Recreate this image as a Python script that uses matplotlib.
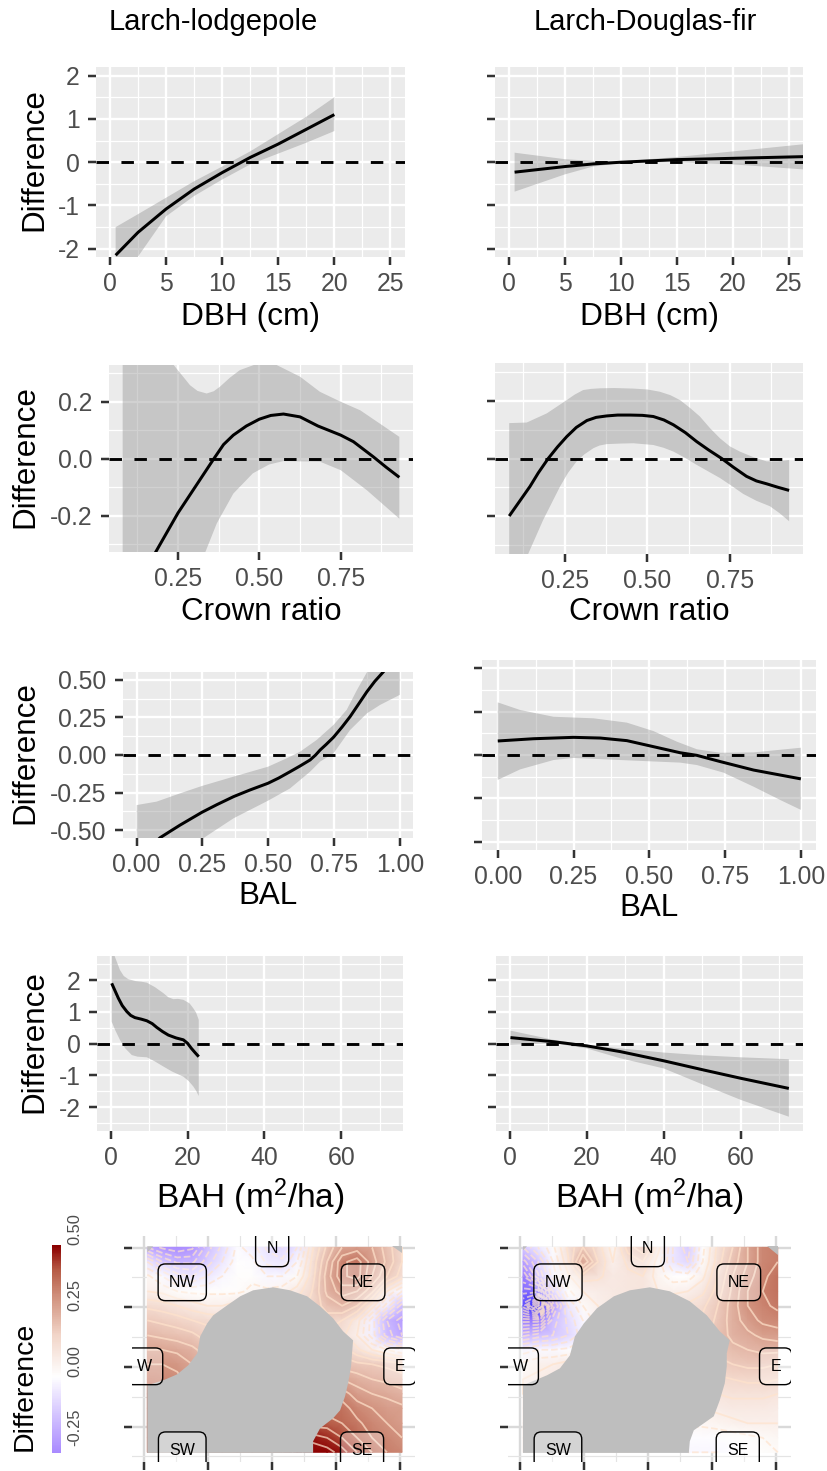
import numpy as np
import matplotlib
matplotlib.use('Agg')
import matplotlib.pyplot as plt
from matplotlib.colors import LinearSegmentedColormap, Normalize

plt.rcParams['font.family'] = ['Liberation Sans', 'DejaVu Sans']
plt.rcParams['mathtext.default'] = 'regular'

W, H = 828, 1471

# DBH
dbh_lp_x = [0.5, 2.5, 5, 7.5, 10, 12.5, 15, 17.5, 20]
dbh_lp_y = [-2.15, -1.62, -1.08, -0.62, -0.24, 0.11, 0.42, 0.76, 1.1]
dbh_lp_hi = [-1.5, -1.2, -0.82, -0.44, -0.1, 0.25, 0.65, 1.05, 1.5]
dbh_lp_lo = [-2.8, -2.18, -1.25, -0.78, -0.4, -0.05, 0.2, 0.45, 0.72]
dbh_df_x = [0.5, 5, 7.5, 10, 15, 20, 26.5]
dbh_df_y = [-0.23, -0.1, -0.04, 0.0, 0.06, 0.09, 0.13]
dbh_df_hi = [0.22, 0.07, 0.03, 0.02, 0.12, 0.25, 0.42]
dbh_df_lo = [-0.68, -0.28, -0.1, -0.02, 0.0, -0.05, -0.17]

# crown ratio
cr_lp_x = [0.08, 0.18, 0.25, 0.36, 0.39, 0.42, 0.46, 0.5, 0.535, 0.574, 0.625, 0.68, 0.75, 0.789, 0.85, 0.89, 0.93]
cr_lp_y = [-0.5, -0.33, -0.19, 0.0, 0.05, 0.083, 0.115, 0.139, 0.152, 0.157, 0.147, 0.115, 0.083, 0.06, 0.007, -0.03, -0.065]
cr_lp_hi_x = [0.08, 0.18, 0.236, 0.287, 0.31, 0.338, 0.36, 0.379, 0.41, 0.44, 0.49, 0.52, 0.553, 0.625, 0.686, 0.75, 0.81, 0.93]
cr_lp_hi = [0.7, 0.45, 0.33, 0.258, 0.238, 0.229, 0.237, 0.253, 0.285, 0.311, 0.332, 0.334, 0.329, 0.288, 0.235, 0.2, 0.17, 0.077]
cr_lp_lo_x = [0.08, 0.25, 0.333, 0.369, 0.42, 0.48, 0.53, 0.574, 0.686, 0.75, 0.83, 0.93]
cr_lp_lo = [-1.5, -0.6, -0.33, -0.227, -0.122, -0.051, -0.02, -0.008, -0.01, -0.04, -0.11, -0.21]
cr_df_x = [0.082, 0.145, 0.17, 0.2, 0.228, 0.256, 0.285, 0.317, 0.345, 0.377, 0.41, 0.448, 0.485, 0.518, 0.55, 0.579,
           0.615, 0.649, 0.685, 0.725, 0.76, 0.8, 0.83, 0.861, 0.895, 0.929]
cr_df_y = [-0.2, -0.097, -0.05, 0.0, 0.04, 0.076, 0.108, 0.132, 0.143, 0.148, 0.151, 0.151, 0.15, 0.146, 0.134, 0.117,
           0.09, 0.059, 0.03, 0.0, -0.03, -0.062, -0.078, -0.088, -0.1, -0.111]
cr_df_hi_x = [0.082, 0.135, 0.196, 0.256, 0.28, 0.306, 0.33, 0.357, 0.4, 0.458, 0.5, 0.538, 0.57, 0.599, 0.63, 0.659,
              0.69, 0.72, 0.75, 0.78, 0.82, 0.861, 0.895, 0.929]
cr_df_hi = [0.123, 0.125, 0.157, 0.203, 0.222, 0.238, 0.242, 0.244, 0.245, 0.243, 0.24, 0.232, 0.22, 0.203, 0.175, 0.146,
            0.105, 0.07, 0.042, 0.024, 0.005, -0.01, -0.01, -0.005]
cr_df_lo_x = [0.082, 0.14, 0.185, 0.236, 0.26, 0.286, 0.31, 0.337, 0.355, 0.377, 0.42, 0.458, 0.518, 0.55, 0.579, 0.61,
              0.649, 0.72, 0.755, 0.79, 0.83, 0.871, 0.9, 0.929]
cr_df_lo = [-0.66, -0.33, -0.213, -0.097, -0.05, -0.01, 0.015, 0.036, 0.045, 0.05, 0.052, 0.053, 0.047, 0.037, 0.024, 0.005,
            -0.022, -0.068, -0.095, -0.123, -0.147, -0.166, -0.19, -0.218]

# BAL
bal_lp_x = [0, 0.089, 0.125, 0.165, 0.205, 0.248, 0.305, 0.368, 0.43, 0.499, 0.54, 0.583, 0.62, 0.659, 0.68, 0.697, 0.72,
            0.748, 0.78, 0.811, 0.84, 0.875, 0.905, 0.938, 1]
bal_lp_y = [-0.7, -0.55, -0.51, -0.466, -0.425, -0.381, -0.33, -0.277, -0.233, -0.188, -0.153, -0.111, -0.074, -0.033, 0.0,
            0.033, 0.07, 0.118, 0.185, 0.255, 0.33, 0.421, 0.49, 0.554, 0.72]
bal_lp_hi_x = [0, 0.076, 0.165, 0.248, 0.368, 0.499, 0.57, 0.621, 0.684, 0.748, 0.798, 0.837, 0.875, 1]
bal_lp_hi = [-0.333, -0.31, -0.255, -0.206, -0.144, -0.078, -0.022, 0.022, 0.1, 0.2, 0.3, 0.432, 0.55, 0.9]
bal_lp_lo_x = [0, 0.256, 0.368, 0.499, 0.583, 0.659, 0.697, 0.748, 0.811, 0.875, 0.925, 1]
bal_lp_lo = [-0.74, -0.55, -0.421, -0.304, -0.222, -0.111, -0.044, 0.011, 0.166, 0.277, 0.333, 0.4]
bal_df_x = [0, 0.118, 0.25, 0.338, 0.426, 0.514, 0.602, 0.657, 0.734, 0.844, 1]
bal_df_y = [0.081, 0.094, 0.102, 0.098, 0.083, 0.048, 0.013, -0.002, -0.038, -0.087, -0.138]
bal_df_hi_x = [0, 0.074, 0.184, 0.316, 0.426, 0.514, 0.591, 0.657, 0.734, 0.844, 1]
bal_df_hi = [0.304, 0.26, 0.221, 0.212, 0.187, 0.138, 0.077, 0.033, 0.013, 0.015, 0.042]
bal_df_lo_x = [0, 0.074, 0.184, 0.25, 0.404, 0.602, 0.657, 0.745, 0.844, 0.932, 1]
bal_df_lo = [-0.144, -0.083, -0.029, -0.017, -0.029, -0.044, -0.058, -0.102, -0.183, -0.26, -0.317]

# BAH
bah_lp_x = [0.26, 1, 2, 3, 4.2, 5.2, 6.3, 8, 9.4, 10.8, 12, 13.5, 15, 17, 18.9, 20, 21, 22, 22.9]
bah_lp_y = [1.9, 1.7, 1.43, 1.2, 1.01, 0.89, 0.82, 0.77, 0.72, 0.63, 0.51, 0.38, 0.27, 0.18, 0.12, 0.01, -0.15, -0.29, -0.41]
bah_lp_hi_x = [0.26, 2.4, 3.4, 4.6, 6.5, 8, 9.4, 11.5, 13.7, 15, 16.3, 17.5, 18.9, 20.5, 21.5, 22.2, 22.9]
bah_lp_hi = [3.0, 2.32, 2.13, 2.03, 1.97, 1.95, 1.92, 1.78, 1.59, 1.46, 1.4, 1.41, 1.38, 1.27, 1.11, 0.98, 0.75]
bah_lp_lo_x = [0.26, 1.2, 2.4, 3.8, 5.5, 7, 9.4, 11.5, 13.7, 16, 18.9, 20.3, 21.5, 22.3, 22.9]
bah_lp_lo = [0.69, 0.42, 0.12, -0.15, -0.36, -0.41, -0.43, -0.56, -0.72, -0.88, -1.04, -1.18, -1.35, -1.5, -1.65]
bah_df_x = [0.2, 11.4, 20, 28.7, 40, 50.4, 60, 72.5]
bah_df_y = [0.19, 0.06, -0.07, -0.25, -0.54, -0.83, -1.09, -1.41]
bah_df_hi_x = [0.2, 11.4, 20, 30.5, 40, 50.4, 60, 72.5]
bah_df_hi = [0.41, 0.12, -0.04, -0.17, -0.28, -0.37, -0.43, -0.49]
bah_df_lo = [-0.04, 0.01, -0.15, -0.46, -0.78, -1.3, -1.77, -2.3]

# neighbourhood maps, rows go from north to south
map_x = [0, 15, 30, 45, 60, 75, 90, 105, 120, 135, 150, 165, 180, 195, 210, 225, 240, 255]
map_y = [205, 190.5, 176, 161, 146.5, 132, 117, 102.5, 88, 73, 58.5, 44, 29, 14.5, 0]
map_lp = [
    [-.28, -.33, -.35, -.33, -.22, -.15, -.07, -.10, -.17, -.20, -.12, .03, .13, .20, .22, .20, .14, .08],
    [-.12, -.20, -.25, -.25, -.18, -.12, -.06, -.07, -.13, -.15, -.08, .05, .16, .27, .30, .22, .15, .08],
    [-.03, -.08, -.14, -.16, -.12, -.08, -.05, -.05, -.08, -.08, -.04, .06, .18, .27, .30, .20, .12, .06],
    [.00, -.01, -.04, -.05, -.05, -.05, -.05, -.03, -.03, -.02, .02, .08, .17, .22, .20, .13, .00, -.08],
    [.07, .06, .04, .02, .00, .00, .02, .03, .03, .04, .06, .09, .14, .16, .12, .02, -.10, -.22],
    [.12, .11, .10, .08, .07, .06, .06, .06, .07, .08, .08, .10, .10, .08, .02, -.10, -.24, -.30],
    [.16, .15, .14, .13, .10, .08, .08, .08, .08, .08, .08, .08, .07, .05, .00, -.10, -.22, -.28],
    [.20, .20, .19, .17, .14, .10, .10, .10, .10, .10, .10, .10, .10, .10, .05, .00, -.04, -.08],
    [.24, .24, .23, .20, .16, .13, .12, .12, .12, .12, .12, .12, .13, .14, .13, .12, .11, .09],
    [.27, .26, .25, .22, .20, .18, .16, .16, .16, .16, .16, .17, .18, .20, .18, .16, .15, .14],
    [.30, .28, .27, .25, .24, .22, .20, .20, .20, .20, .20, .22, .24, .26, .22, .20, .19, .17],
    [.30, .30, .30, .30, .28, .26, .24, .24, .24, .24, .26, .28, .30, .30, .26, .24, .22, .21],
    [.30, .30, .30, .30, .30, .30, .30, .30, .30, .30, .32, .34, .34, .32, .29, .26, .24, .22],
    [.30, .30, .30, .30, .30, .30, .30, .30, .30, .34, .38, .42, .40, .36, .32, .28, .26, .24],
    [.30, .30, .30, .30, .30, .30, .30, .30, .30, .36, .42, .48, .46, .42, .36, .32, .28, .26],
]
map_df = [
    [-.20, -.12, -.05, .05, .12, .06, -.02, .10, .15, .02, -.12, -.18, -.05, .05, .12, .20, .26, .28],
    [-.30, -.20, -.08, .03, .20, .08, .00, .05, .08, -.02, -.12, -.16, -.04, .06, .14, .20, .26, .28],
    [-.40, -.25, -.10, -.01, .06, .05, .02, .03, .04, -.02, -.06, -.06, -.01, .08, .16, .22, .27, .30],
    [-.50, -.50, -.20, -.05, .00, .01, .02, .03, .04, .00, -.01, .00, .03, .10, .17, .24, .28, .30],
    [-.62, -.85, -.30, -.12, -.04, .00, .02, .03, .04, .04, .04, .05, .07, .12, .18, .24, .27, .29],
    [-.42, -.42, -.22, -.15, -.08, -.02, .02, .05, .05, .05, .05, .06, .09, .13, .18, .22, .25, .26],
    [-.25, -.22, -.20, -.16, -.10, -.05, .00, .05, .05, .05, .05, .05, .10, .14, .17, .19, .21, .22],
    [-.10, -.08, -.08, -.07, -.05, -.02, .00, .04, .05, .05, .05, .06, .10, .13, .15, .16, .17, .17],
    [-.03, -.01, .00, .02, .02, .02, .02, .03, .04, .05, .05, .05, .08, .11, .12, .13, .13, .12],
    [.00, .01, .02, .03, .03, .03, .03, .03, .03, .04, .04, .04, .05, .07, .08, .09, .09, .08],
    [.00, .01, .02, .03, .03, .03, .03, .03, .03, .03, .03, .03, .02, .04, .05, .05, .05, .04],
    [.00, .00, .01, .02, .02, .02, .02, .02, .02, .02, .01, .00, .00, .01, .02, .02, .02, .01],
    [.00, .00, .00, .00, .00, .00, .00, .00, .00, .00, -.02, -.03, -.03, -.02, -.01, .00, .00, .00],
    [.00, .00, .00, .00, .00, .00, .00, .00, -.02, -.04, -.06, -.07, -.07, -.07, -.06, -.05, -.04, -.03],
    [.00, .00, .00, .00, .00, .00, .00, .00, -.03, -.05, -.07, -.08, -.08, -.08, -.07, -.06, -.05, -.04],
]

# grey part of the maps that has no trees
mask_lp_x = [0, 0, 16, 30, 41, 50, 53, 60, 66, 80, 93, 106, 126, 143, 160, 173, 186, 196, 206, 205, 204, 201, 198, 193, 186, 173, 166, 166]
mask_lp_y = [-0.6, 67, 72, 78, 87, 99, 116, 129, 137, 147, 156, 162, 165, 162, 156, 146, 134, 121, 112, 99, 86, 69, 56, 42, 34, 24, 11, -0.6]
mask_df_x = [0, 0, 24, 37, 47, 52, 61, 74, 91, 107, 127, 147, 167, 184, 197, 207, 204, 204, 202, 197, 191, 181, 171, 167, 166]
mask_df_y = [-0.6, 67, 77, 84, 97, 116, 129, 144, 156, 162, 165, 161, 151, 137, 121, 112, 99, 86, 69, 52, 36, 29, 22, 11, -0.6]
corner_lp = [([0, 6, 0], [206, 206, 200]), ([245, 255, 255], [206, 206, 199])]
corner_df = [([0, 4, 0], [206, 206, 202]), ([244, 255, 255], [206, 206, 197])]

compass_labels = ['N', 'NE', 'E', 'SE', 'SW', 'W', 'NW']
compass_x = [125, 216, 253, 215, 35, -3, 35]
compass_y = [204, 170, 86, 2, 2, 86, 170]

map_xticks = [-3, 61, 125, 189, 253]
map_xminor = [29, 93, 157, 221]
map_yticks = [25.7, 85.3, 145, 204.7]
map_yminor = [-4, 55.7, 115.3, 175]

cbar_ticks = [-0.25, 0.0, 0.25, 0.5]

# map colours, from the blue spot up to the dark red corner
cmap_vals = [-1.0, -0.35, -0.06, 0.1, 0.25, 0.35, 0.44]
cmap_cols = ['#0000FF', '#A98AFF', '#FFFFFF', '#F2D5C8', '#D08F7B', '#B65A45', '#8B0000']
norm = Normalize(cmap_vals[0], cmap_vals[-1])
cmap = LinearSegmentedColormap.from_list('diff', [(norm(v), c) for v, c in zip(cmap_vals, cmap_cols)])

fig = plt.figure(figsize=(W / 100, H / 100), dpi=100)


def px(n):
    return n * 0.72


def add_panel(left, top, right, bottom):
    return fig.add_axes([left / W, 1 - bottom / H, (right - left) / W, (bottom - top) / H])


def style(ax, xlim, ylim, xt, xm, yt, ym, xfmt, yfmt=None):
    ax.set_facecolor('#EBEBEB')
    ax.set_xlim(xlim)
    ax.set_ylim(ylim)
    ax.set_xticks(xt)
    ax.set_xticks(xm, minor=True)
    ax.set_yticks(yt)
    ax.set_yticks(ym, minor=True)
    ax.set_xticklabels([xfmt % v for v in xt])
    ax.set_yticklabels([yfmt % v for v in yt] if yfmt else [])
    ax.grid(which='major', color='white', lw=px(2.4))
    ax.grid(which='minor', color='white', lw=px(1.2))
    ax.set_axisbelow(True)
    ax.tick_params(which='major', length=px(8), width=px(2.5), color='#333333', labelcolor='#4D4D4D',
                   labelsize=17.8)
    ax.tick_params(axis='x', which='major', pad=px(7))
    ax.tick_params(axis='y', which='major', pad=px(8.5))
    ax.tick_params(which='minor', length=0)
    for s in ax.spines.values():
        s.set_visible(False)


def curve(ax, x, y, hi_x, hi, lo_x, lo):
    # the two ribbon edges were read apart, so they go round as one polygon
    ax.fill(list(hi_x) + list(lo_x)[::-1], list(hi) + list(lo)[::-1], color='#999999', alpha=0.45, lw=0)
    ax.axhline(0, color='black', lw=px(2.9), ls=(0, (4.3, 4.3)))
    ax.plot(x, y, color='black', lw=px(3), solid_capstyle='butt', solid_joinstyle='round')


panels = [
    # box, xlim, ylim, ticks, formats, data, xlabel with its height and size, ylabel x
    ((96, 67, 405, 257), (-1.25, 26.3), (-2.19, 2.2), [0, 5, 10, 15, 20, 25], [2.5, 7.5, 12.5, 17.5, 22.5],
     [-2, -1, 0, 1, 2], [-1.5, -0.5, 0.5, 1.5], '%d', '%d',
     (dbh_lp_x, dbh_lp_y, dbh_lp_x, dbh_lp_hi, dbh_lp_x, dbh_lp_lo), 'DBH (cm)', 317.5, 22.8, 34),
    ((495, 67, 803, 257), (-1.25, 26.25), (-2.19, 2.2), [0, 5, 10, 15, 20, 25], [2.5, 7.5, 12.5, 17.5, 22.5],
     [-2, -1, 0, 1, 2], [-1.5, -0.5, 0.5, 1.5], '%d', None,
     (dbh_df_x, dbh_df_y, dbh_df_x, dbh_df_hi, dbh_df_x, dbh_df_lo), 'DBH (cm)', 317.5, 22.8, None),
    ((109, 365, 413, 552), (0.038, 0.972), (-0.327, 0.329), [0.25, 0.5, 0.75], [0.125, 0.375, 0.625, 0.875],
     [-0.2, 0, 0.2], [-0.3, -0.1, 0.1, 0.3], '%.2f', '%.1f',
     (cr_lp_x, cr_lp_y, cr_lp_hi_x, cr_lp_hi, cr_lp_lo_x, cr_lp_lo), 'Crown ratio', 612, 22.6, 25),
    ((495, 363, 803, 554), (0.039, 0.971), (-0.332, 0.332), [0.25, 0.5, 0.75], [0.125, 0.375, 0.625, 0.875],
     [-0.2, 0, 0.2], [-0.3, -0.1, 0.1, 0.3], '%.2f', None,
     (cr_df_x, cr_df_y, cr_df_hi_x, cr_df_hi, cr_df_lo_x, cr_df_lo), 'Crown ratio', 612, 22.6, None),
    ((123, 672.3, 412.7, 837.7), (-0.052, 1.049), (-0.55, 0.55), [0, 0.25, 0.5, 0.75, 1], [0.125, 0.375, 0.625, 0.875],
     [-0.5, -0.25, 0, 0.25, 0.5], [-0.375, -0.125, 0.125, 0.375], '%.2f', '%.2f',
     (bal_lp_x, bal_lp_y, bal_lp_hi_x, bal_lp_hi, bal_lp_lo_x, bal_lp_lo), 'BAL', 896, 22.6, 25),
    ((482.3, 660, 816.3, 850), (-0.051, 1.051), (-0.549, 0.549), [0, 0.25, 0.5, 0.75, 1], [0.125, 0.375, 0.625, 0.875],
     [-0.5, -0.25, 0, 0.25, 0.5], [-0.375, -0.125, 0.125, 0.375], '%.2f', None,
     (bal_df_x, bal_df_y, bal_df_hi_x, bal_df_hi, bal_df_lo_x, bal_df_lo), 'BAL', 907.5, 22.6, None),
    ((97, 956, 403.3, 1131.3), (-3.56, 76.1), (-2.76, 2.76), [0, 20, 40, 60], [10, 30, 50, 70],
     [-2, -1, 0, 1, 2], [-2.5, -1.5, -0.5, 0.5, 1.5, 2.5], '%d', '%d',
     (bah_lp_x, bah_lp_y, bah_lp_hi_x, bah_lp_hi, bah_lp_lo_x, bah_lp_lo), 'BAH (m$^{2}$/ha)', 1197.5, 24, 34),
    ((496, 956, 802.7, 1131.3), (-3.56, 76.1), (-2.76, 2.76), [0, 20, 40, 60], [10, 30, 50, 70],
     [-2, -1, 0, 1, 2], [-2.5, -1.5, -0.5, 0.5, 1.5, 2.5], '%d', None,
     (bah_df_x, bah_df_y, bah_df_hi_x, bah_df_hi, bah_df_x, bah_df_lo), 'BAH (m$^{2}$/ha)', 1197.5, 24, None),
]

for box, xlim, ylim, xt, xm, yt, ym, xfmt, yfmt, data, xlab, xlab_y, xlab_size, ylab_x in panels:
    ax = add_panel(*box)
    style(ax, xlim, ylim, xt, xm, yt, ym, xfmt, yfmt)
    curve(ax, *data)
    fig.text((box[0] + box[2]) / 2 / W, 1 - xlab_y / H, xlab, fontsize=xlab_size, ha='center', va='center')
    if ylab_x:
        fig.text(ylab_x / W, 1 - ((box[1] + box[3]) / 2 - 2) / H, 'Difference', fontsize=22.6, rotation=90,
                 ha='center', va='center')

fig.text(213 / W, 1 - 22 / H, 'Larch-lodgepole', fontsize=21, ha='center', va='center')
fig.text(645 / W, 1 - 22 / H, 'Larch-Douglas-fir', fontsize=21, ha='center', va='center')

maps = [
    ((132, 1236, 415, 1462), map_lp, mask_lp_x, mask_lp_y, corner_lp),
    ((507.7, 1236, 790.7, 1462), map_df, mask_df_x, mask_df_y, corner_df),
]

for box, grid, mx, my, corners in maps:
    ax = add_panel(*box)
    ax.set_xlim(-15.3, 268)
    ax.set_ylim(-9.7, 216.3)
    ax.set_xticks(map_xticks)
    ax.set_xticks(map_xminor, minor=True)
    ax.set_yticks(map_yticks)
    ax.set_yticks(map_yminor, minor=True)
    ax.set_xticklabels([])
    ax.set_yticklabels([])
    ax.grid(which='major', color='#D9D9D9', lw=px(2.4))
    ax.grid(which='minor', color='#E4E4E4', lw=px(1.2))
    ax.set_axisbelow(True)
    ax.tick_params(which='major', length=px(8), width=px(2.5), color='#333333')
    ax.tick_params(which='minor', length=0)
    for s in ax.spines.values():
        s.set_visible(False)
    ax.pcolormesh(map_x, map_y, np.array(grid), shading='gouraud', cmap=cmap, norm=norm, zorder=2)
    ax.contour(map_x, map_y, np.array(grid), levels=np.arange(-1.0, 0.6, 0.04), colors='#FFE3CC',
               linewidths=px(1.8), alpha=0.7, zorder=2.5)
    ax.fill(mx, my, color='#BEBEBE', lw=0, zorder=3)
    for cx, cy in corners:
        ax.fill(cx, cy, color='#BEBEBE', lw=0, zorder=3)
    for lab, lx, ly in zip(compass_labels, compass_x, compass_y):
        ax.text(lx, ly, lab, fontsize=11.5, ha='center', va='center', zorder=5, clip_on=True,
                bbox=dict(boxstyle='round,pad=0.68,rounding_size=0.45', fc=(1, 1, 1, 0.35), ec='black', lw=1))

# colour bar
cax = add_panel(52.3, 1245.3, 61, 1453.3)
cax.imshow(np.linspace(0.44, -0.35, 256)[:, None], aspect='auto', cmap=cmap, norm=norm,
           extent=(0, 1, -0.35, 0.44))
cax.set_xticks([])
cax.set_yticks([])
for s in cax.spines.values():
    s.set_visible(False)
for v in cbar_ticks:
    cax.text(2.6, v, '%.2f' % v, fontsize=11.8, color='#4D4D4D', rotation=90, ha='center', va='center',
             clip_on=False)
fig.text(25 / W, 1 - 1386.7 / H, 'Difference', fontsize=20.5, rotation=90, ha='center', va='center')

fig.savefig('out.png', dpi=100)
